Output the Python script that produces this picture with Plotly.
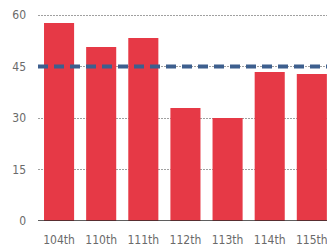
import plotly.graph_objects as go

congresses = ["104th", "110th", "111th", "112th", "113th", "114th", "115th"]
values = [57.7, 50.7, 53.3, 32.9, 30.0, 43.4, 42.8]
reference_level = 45
y_ticks = [0, 15, 30, 45, 60]

fig = go.Figure()
fig.add_trace(go.Bar(x=list(range(len(congresses))), y=values,
                     marker=dict(color="#e63946", line=dict(width=0)),
                     width=0.714, showlegend=False, hoverinfo="skip"))

fig.add_shape(type="line", xref="paper", yref="y", x0=0, x1=1,
              y0=reference_level, y1=reference_level,
              line=dict(color="#3d5f8e", width=4, dash="10px,6px"))

fig.update_layout(
    width=327, height=252,
    margin=dict(l=38, r=0, t=14, b=31, autoexpand=False),
    paper_bgcolor="white", plot_bgcolor="white",
    font=dict(family="DejaVu Sans Condensed, sans-serif", size=12, color="#6a6a6a"),
    xaxis=dict(tickmode="array", tickvals=list(range(len(congresses))), ticktext=congresses,
               range=[-0.5, 6.36], showgrid=False, zeroline=False, showline=False,
               ticks="", ticklabelstandoff=10, ticklabeloverflow="allow", fixedrange=True),
    yaxis=dict(range=[0, 60.3], tickvals=y_ticks, showgrid=True,
               gridcolor="#a0a0a0", griddash="2px,1px", gridwidth=1,
               zeroline=False, showline=False, ticks="", ticklabelstandoff=11,
               ticklabeloverflow="allow", fixedrange=True),
)
fig.add_shape(type="line", xref="paper", yref="y", x0=0, x1=1, y0=0, y1=0,
              line=dict(color="#2a2a2a", width=1.5))

fig.write_html("out.html", config={"displayModeBar": False},
               post_script="document.body.style.margin='0';document.body.style.overflow='hidden';")
